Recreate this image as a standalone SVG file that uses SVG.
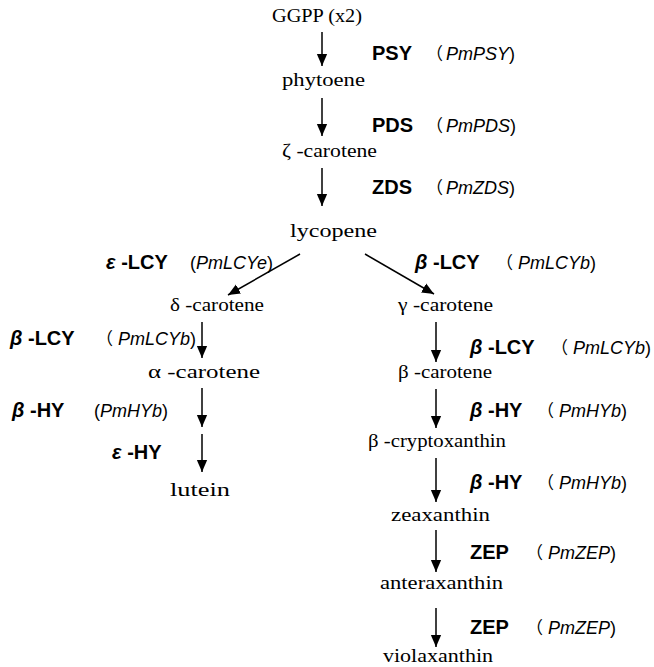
<svg xmlns="http://www.w3.org/2000/svg" width="654" height="667" viewBox="0 0 654 667">
<style>
.c{font-family:"Liberation Serif","DejaVu Serif",serif;font-size:19px;fill:#000}
.e{font-family:"Liberation Sans",Arial,sans-serif;font-size:20px;font-weight:bold;fill:#000}
.b{font-style:italic}
.p{font-family:"Noto Sans CJK JP","Liberation Sans",sans-serif;font-size:17px;font-weight:normal;font-style:normal}
.g{font-family:"Liberation Sans",Arial,sans-serif;font-size:18px;font-weight:normal;font-style:italic}
.r{font-family:"Liberation Sans",Arial,sans-serif;font-size:18px;font-weight:normal;font-style:normal}
.a{stroke:#000;stroke-width:1.5;fill:none;marker-end:url(#ah)}
</style>
<defs>
<marker id="ah" markerWidth="12" markerHeight="14" viewBox="0 0 14 12" refX="14" refY="6" orient="auto" markerUnits="userSpaceOnUse">
<path d="M0,0 L14,6 L0,12 Z" fill="#000"/>
</marker>
</defs>
<rect width="654" height="667" fill="#fff"/>
<g id="connectors">
<line class="a" x1="322" y1="32" x2="322" y2="66"/>
<line class="a" x1="322" y1="98" x2="322" y2="136"/>
<line class="a" x1="322" y1="168" x2="322" y2="206"/>
<line class="a" x1="300" y1="254" x2="228" y2="295"/>
<line class="a" x1="365" y1="254" x2="434" y2="294"/>
<line class="a" x1="202" y1="322" x2="202" y2="358"/>
<line class="a" x1="202" y1="388" x2="202" y2="427"/>
<line class="a" x1="202" y1="434" x2="202" y2="472"/>
<line class="a" x1="436" y1="322" x2="436" y2="362"/>
<line class="a" x1="436" y1="389" x2="436" y2="428"/>
<line class="a" x1="436" y1="458" x2="436" y2="502"/>
<line class="a" x1="436" y1="530" x2="436" y2="572"/>
<line class="a" x1="436" y1="608" x2="436" y2="647"/>
</g>
<g id="GGPP"><text class="c" x="272" y="22" textLength="90" lengthAdjust="spacingAndGlyphs">GGPP (x2)</text></g>
<g id="phytoene"><text class="c" x="282" y="86" textLength="83" lengthAdjust="spacingAndGlyphs">phytoene</text></g>
<g id="zeta-carotene"><text class="c" x="282" y="157" textLength="95" lengthAdjust="spacingAndGlyphs">ζ -carotene</text></g>
<g id="lycopene"><text class="c" x="290" y="237" textLength="87" lengthAdjust="spacingAndGlyphs">lycopene</text></g>
<g id="delta-carotene"><text class="c" x="170" y="311" textLength="94" lengthAdjust="spacingAndGlyphs">δ -carotene</text></g>
<g id="gamma-carotene"><text class="c" x="398" y="311" textLength="95" lengthAdjust="spacingAndGlyphs">γ -carotene</text></g>
<g id="alpha-carotene"><text class="c" x="148" y="378" textLength="112" lengthAdjust="spacingAndGlyphs">α -carotene</text></g>
<g id="lutein"><text class="c" x="170" y="496" textLength="60" lengthAdjust="spacingAndGlyphs">lutein</text></g>
<g id="beta-carotene"><text class="c" x="398" y="378" textLength="94" lengthAdjust="spacingAndGlyphs">β -carotene</text></g>
<g id="beta-cryptoxanthin"><text class="c" x="368" y="447" textLength="138" lengthAdjust="spacingAndGlyphs">β -cryptoxanthin</text></g>
<g id="zeaxanthin"><text class="c" x="391" y="521" textLength="99" lengthAdjust="spacingAndGlyphs">zeaxanthin</text></g>
<g id="anteraxanthin"><text class="c" x="380" y="589" textLength="123" lengthAdjust="spacingAndGlyphs">anteraxanthin</text></g>
<g id="violaxanthin"><text class="c" x="383" y="662" textLength="110" lengthAdjust="spacingAndGlyphs">violaxanthin</text></g>
<g id="labels">
<text class="e" x="372" y="60">PSY<tspan class="p" x="426">（</tspan><tspan class="g" x="446">PmPSY</tspan><tspan class="r">)</tspan></text>
<text class="e" x="372" y="132">PDS<tspan class="p" x="426">（</tspan><tspan class="g" x="446">PmPDS</tspan><tspan class="r">)</tspan></text>
<text class="e" x="372" y="194">ZDS<tspan class="p" x="426">（</tspan><tspan class="g" x="446">PmZDS</tspan><tspan class="r">)</tspan></text>
<text class="e" x="106" y="269"><tspan class="b">ε</tspan> -LCY<tspan class="r" x="190">(</tspan><tspan class="g">PmLCYe</tspan><tspan class="r">)</tspan></text>
<text class="e" x="415" y="269"><tspan class="b">β</tspan> -LCY<tspan class="p" x="496">（</tspan><tspan class="g" x="518">PmLCYb</tspan><tspan class="r">)</tspan></text>
<text class="e" x="10" y="345"><tspan class="b">β</tspan> -LCY<tspan class="p" x="96">（</tspan><tspan class="g" x="118">PmLCYb</tspan><tspan class="r">)</tspan></text>
<text class="e" x="12" y="417"><tspan class="b">β</tspan> -HY<tspan class="r" x="94">(</tspan><tspan class="g">PmHYb</tspan><tspan class="r">)</tspan></text>
<text class="e" x="112" y="459"><tspan class="b">ε</tspan> -HY</text>
<text class="e" x="470" y="354"><tspan class="b">β</tspan> -LCY<tspan class="p" x="551">（</tspan><tspan class="g" x="573">PmLCYb</tspan><tspan class="r">)</tspan></text>
<text class="e" x="470" y="417"><tspan class="b">β</tspan> -HY<tspan class="p" x="537">（</tspan><tspan class="g" x="559">PmHYb</tspan><tspan class="r">)</tspan></text>
<text class="e" x="470" y="489"><tspan class="b">β</tspan> -HY<tspan class="p" x="537">（</tspan><tspan class="g" x="559">PmHYb</tspan><tspan class="r">)</tspan></text>
<text class="e" x="470" y="559">ZEP<tspan class="p" x="526">（</tspan><tspan class="g" x="548">PmZEP</tspan><tspan class="r">)</tspan></text>
<text class="e" x="470" y="634">ZEP<tspan class="p" x="526">（</tspan><tspan class="g" x="548">PmZEP</tspan><tspan class="r">)</tspan></text>
</g>
</svg>
